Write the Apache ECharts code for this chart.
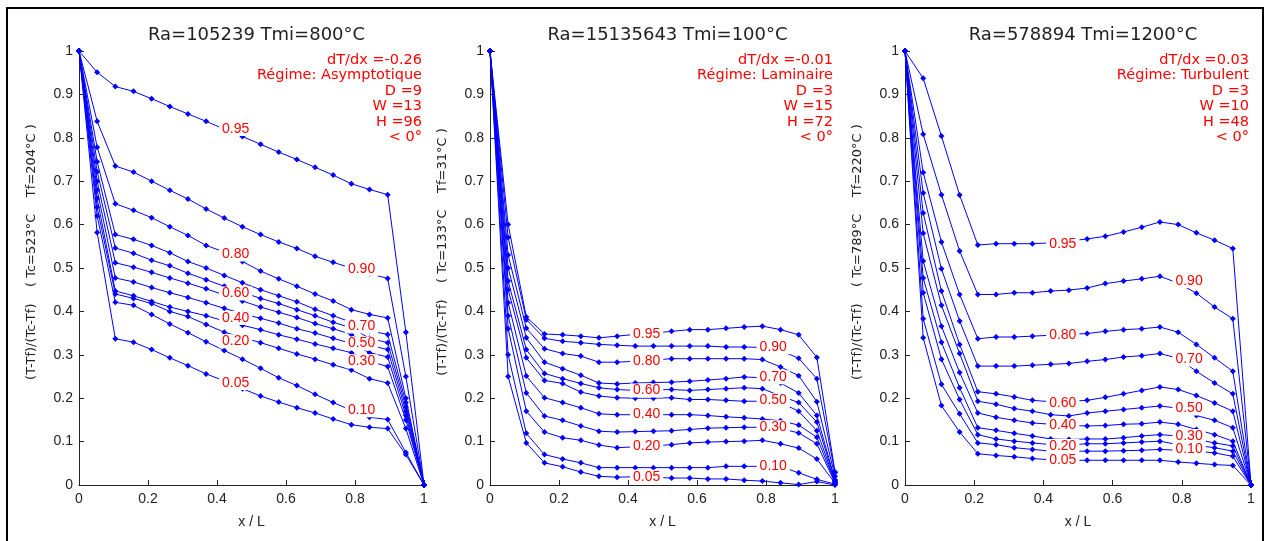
<!DOCTYPE html>
<html>
<head>
<meta charset="utf-8">
<script src="https://cdn.jsdelivr.net/npm/echarts@6/dist/echarts.min.js"></script>
<style>
html,body{margin:0;padding:0;background:#fff;}
#chart{width:1271px;height:541px;}
</style>
</head>
<body>
<div id="chart"></div>
<script>
// ---------------- DATA ----------------
const xPoints = [0, 0.0526, 0.1053, 0.1579, 0.2105, 0.2632, 0.3158, 0.3684, 0.4211, 0.4737,
                 0.5263, 0.5789, 0.6316, 0.6842, 0.7368, 0.7895, 0.8421, 0.8947, 0.9474, 1];
const levels = ['0.95','0.90','0.80','0.70','0.60','0.50','0.40','0.30','0.20','0.10','0.05'];

const titles = ['Ra=105239 Tmi=800°C', 'Ra=15135643 Tmi=100°C', 'Ra=578894 Tmi=1200°C'];
const yNames = ['(T-Tf)/(Tc-Tf)    ( Tc=523°C    Tf=204°C )',
                '(T-Tf)/(Tc-Tf)    ( Tc=133°C    Tf=31°C )',
                '(T-Tf)/(Tc-Tf)    ( Tc=789°C    Tf=220°C )'];
const notes1 = ['dT/dx =-0.26', 'Régime: Asymptotique', 'D =9', 'W =13', 'H =96', '< 0°'];
const notes2 = ['dT/dx =-0.01', 'Régime: Laminaire', 'D =3', 'W =15', 'H =72', '< 0°'];
const notes3 = ['dT/dx =0.03', 'Régime: Turbulent', 'D =3', 'W =10', 'H =48', '< 0°'];
const xTicks = [0, 0.2, 0.4, 0.6, 0.8, 1];
const yTicks = [0, 0.1, 0.2, 0.3, 0.4, 0.5, 0.6, 0.7, 0.8, 0.9, 1];

// Panel 1 curves (one row per level)
const panel1 = [
 [1,0.951,0.918,0.907,0.890,0.872,0.855,0.838,0.820,0.803,0.785,0.767,0.750,0.732,0.714,0.694,0.681,0.669,0.352,0],
 [1,0.838,0.735,0.721,0.700,0.679,0.659,0.636,0.615,0.595,0.577,0.560,0.545,0.527,0.513,0.500,0.487,0.476,0.250,0],
 [1,0.778,0.648,0.633,0.616,0.595,0.575,0.552,0.537,0.515,0.493,0.475,0.458,0.440,0.424,0.404,0.393,0.385,0.200,0],
 [1,0.745,0.577,0.566,0.552,0.535,0.515,0.500,0.483,0.466,0.450,0.436,0.422,0.405,0.390,0.375,0.355,0.347,0.190,0],
 [1,0.722,0.546,0.534,0.518,0.505,0.488,0.473,0.458,0.444,0.430,0.418,0.404,0.390,0.375,0.362,0.338,0.328,0.180,0],
 [1,0.700,0.512,0.502,0.490,0.477,0.465,0.452,0.438,0.424,0.410,0.398,0.386,0.372,0.360,0.347,0.322,0.312,0.170,0],
 [1,0.680,0.477,0.468,0.455,0.443,0.432,0.420,0.407,0.395,0.384,0.373,0.360,0.350,0.338,0.326,0.305,0.295,0.160,0],
 [1,0.660,0.447,0.436,0.423,0.410,0.400,0.390,0.378,0.368,0.358,0.346,0.336,0.325,0.315,0.305,0.285,0.273,0.150,0],
 [1,0.640,0.440,0.430,0.418,0.400,0.388,0.370,0.352,0.340,0.328,0.315,0.302,0.290,0.277,0.265,0.245,0.235,0.130,0],
 [1,0.620,0.421,0.414,0.393,0.371,0.351,0.330,0.310,0.290,0.269,0.247,0.229,0.209,0.190,0.172,0.156,0.151,0.075,0],
 [1,0.582,0.337,0.329,0.312,0.293,0.275,0.256,0.240,0.222,0.205,0.191,0.178,0.166,0.152,0.139,0.133,0.130,0.070,0]
];
// Panel 2 curves
const panel2 = [
 [1,0.600,0.387,0.348,0.346,0.343,0.339,0.343,0.347,0.350,0.354,0.358,0.358,0.361,0.364,0.366,0.358,0.346,0.294,0.030],
 [1,0.570,0.381,0.338,0.331,0.328,0.324,0.322,0.320,0.320,0.320,0.320,0.320,0.318,0.318,0.317,0.310,0.292,0.245,0.028],
 [1,0.530,0.361,0.314,0.303,0.297,0.283,0.283,0.285,0.288,0.291,0.291,0.291,0.291,0.291,0.289,0.272,0.252,0.192,0.020],
 [1,0.500,0.339,0.283,0.268,0.253,0.235,0.233,0.235,0.236,0.237,0.239,0.242,0.245,0.249,0.247,0.235,0.212,0.160,0.012],
 [1,0.470,0.312,0.257,0.245,0.234,0.224,0.220,0.218,0.219,0.220,0.218,0.220,0.222,0.224,0.222,0.205,0.190,0.145,0.010],
 [1,0.450,0.293,0.241,0.234,0.214,0.205,0.201,0.200,0.200,0.201,0.197,0.197,0.195,0.193,0.193,0.190,0.170,0.125,0.008],
 [1,0.420,0.251,0.201,0.190,0.178,0.164,0.162,0.162,0.162,0.162,0.162,0.160,0.157,0.155,0.152,0.148,0.138,0.110,0.006],
 [1,0.390,0.212,0.159,0.149,0.136,0.124,0.122,0.123,0.124,0.125,0.128,0.131,0.132,0.133,0.133,0.130,0.120,0.095,0.005],
 [1,0.360,0.170,0.122,0.109,0.103,0.092,0.086,0.088,0.090,0.093,0.097,0.099,0.100,0.101,0.103,0.095,0.085,0.060,0.004],
 [1,0.300,0.119,0.070,0.060,0.051,0.040,0.040,0.040,0.040,0.040,0.040,0.040,0.043,0.043,0.043,0.043,0.028,0.013,0.002],
 [1,0.250,0.097,0.051,0.042,0.030,0.020,0.018,0.019,0.018,0.016,0.016,0.014,0.014,0.011,0.009,0.005,0.001,0.008,0]
];
// Panel 3 curves
const panel3 = [
 [1,0.937,0.804,0.668,0.553,0.556,0.556,0.556,0.558,0.562,0.567,0.573,0.583,0.594,0.606,0.600,0.581,0.564,0.545,0],
 [1,0.808,0.669,0.539,0.439,0.439,0.443,0.443,0.447,0.449,0.454,0.464,0.470,0.475,0.481,0.465,0.442,0.410,0.383,0],
 [1,0.720,0.560,0.439,0.337,0.341,0.341,0.343,0.345,0.347,0.349,0.354,0.358,0.360,0.364,0.352,0.324,0.293,0.262,0],
 [1,0.673,0.498,0.378,0.274,0.274,0.274,0.276,0.278,0.280,0.285,0.289,0.295,0.298,0.303,0.292,0.262,0.235,0.210,0],
 [1,0.627,0.447,0.324,0.215,0.210,0.203,0.195,0.192,0.193,0.195,0.202,0.210,0.218,0.226,0.220,0.206,0.189,0.170,0],
 [1,0.580,0.414,0.303,0.193,0.186,0.176,0.170,0.162,0.159,0.166,0.170,0.174,0.178,0.182,0.177,0.160,0.149,0.132,0],
 [1,0.516,0.366,0.259,0.166,0.156,0.149,0.143,0.140,0.137,0.136,0.137,0.140,0.141,0.145,0.140,0.128,0.116,0.101,0],
 [1,0.477,0.329,0.224,0.132,0.126,0.119,0.113,0.106,0.105,0.106,0.106,0.109,0.113,0.116,0.113,0.105,0.097,0.090,0],
 [1,0.443,0.290,0.197,0.116,0.106,0.101,0.097,0.093,0.092,0.095,0.095,0.097,0.099,0.101,0.093,0.091,0.086,0.078,0],
 [1,0.383,0.232,0.164,0.097,0.093,0.086,0.082,0.078,0.078,0.078,0.078,0.079,0.080,0.082,0.080,0.078,0.074,0.066,0],
 [1,0.339,0.183,0.122,0.072,0.068,0.065,0.061,0.058,0.057,0.057,0.057,0.057,0.057,0.057,0.053,0.050,0.047,0.045,0]
];

// Contour-style level labels: [x, y, text]
const labels1 = [[0.454,0.820,'0.95'],[0.454,0.531,'0.80'],[0.454,0.441,'0.60'],[0.454,0.385,'0.40'],[0.454,0.331,'0.20'],[0.454,0.235,'0.05'],
                 [0.819,0.497,'0.90'],[0.819,0.365,'0.70'],[0.819,0.326,'0.50'],[0.819,0.285,'0.30'],[0.819,0.172,'0.10']];
const labels2 = [[0.454,0.347,'0.95'],[0.454,0.285,'0.80'],[0.454,0.218,'0.60'],[0.454,0.164,'0.40'],[0.454,0.090,'0.20'],[0.454,0.019,'0.05'],
                 [0.821,0.318,'0.90'],[0.821,0.248,'0.70'],[0.821,0.195,'0.50'],[0.821,0.133,'0.30'],[0.821,0.043,'0.10']];
const labels3 = [[0.456,0.554,'0.95'],[0.456,0.345,'0.80'],[0.456,0.189,'0.60'],[0.456,0.137,'0.40'],[0.456,0.090,'0.20'],[0.456,0.057,'0.05'],
                 [0.821,0.470,'0.90'],[0.821,0.289,'0.70'],[0.821,0.176,'0.50'],[0.821,0.113,'0.30'],[0.821,0.082,'0.10']];

// ---------------- LAYOUT ----------------
const FONT = '"DejaVu Sans", Verdana, sans-serif';
const FONT2 = '"Liberation Sans", Arial, sans-serif';
const panels = [
  {left: 79,  width: 345, data: panel1, labels: labels1, notes: notes1},
  {left: 490, width: 345, data: panel2, labels: labels2, notes: notes2},
  {left: 905, width: 346, data: panel3, labels: labels3, notes: notes3}
];
const TOP = 51, HEIGHT = 434;

const grids = [], xAxes = [], yAxes = [], series = [], titleArr = [], graphics = [];
panels.forEach((p, pi) => {
  grids.push({left: p.left, top: TOP, width: p.width, height: HEIGHT, containLabel: false});
  xAxes.push({
    type: 'value', gridIndex: pi, min: 0, max: 1, interval: 0.2,
    name: 'x / L', nameLocation: 'middle', nameGap: 30,
    nameTextStyle: {color: '#222', fontSize: 14, fontFamily: FONT2},
    axisLine: {show: true, lineStyle: {color: '#222', width: 1}},
    axisTick: {show: true, inside: true, length: 5, lineStyle: {color: '#222'}},
    axisLabel: {color: '#222', fontSize: 14, fontFamily: FONT2, margin: 7,
                formatter: v => xTicks.indexOf(+v.toFixed(1)) >= 0 ? String(+v.toFixed(1)) : ''},
    splitLine: {show: false}
  });
  yAxes.push({
    type: 'value', gridIndex: pi, min: 0, max: 1, interval: 0.1,
    axisLine: {show: true, lineStyle: {color: '#222', width: 1}},
    axisTick: {show: true, inside: true, length: 5, lineStyle: {color: '#222'}},
    axisLabel: {color: '#222', fontSize: 14, fontFamily: FONT2, margin: 6,
                formatter: v => yTicks.indexOf(+v.toFixed(1)) >= 0 ? String(+v.toFixed(1)) : ''},
    splitLine: {show: false}
  });
  titleArr.push({
    text: titles[pi], left: p.left + p.width / 2, top: 21, textAlign: 'center',
    textStyle: {color: '#222', fontSize: 18, fontWeight: 'normal', fontFamily: FONT}
  });
  p.data.forEach((vals, k) => {
    series.push({
      type: 'line', name: levels[k], xAxisIndex: pi, yAxisIndex: pi,
      data: xPoints.map((x, i) => [x, vals[i]]),
      symbol: 'diamond', symbolSize: 6, showSymbol: true,
      lineStyle: {color: '#0000ff', width: 1}, itemStyle: {color: '#0000ff'},
      animation: false, z: 2, silent: true
    });
  });
  series.push({
    type: 'scatter', xAxisIndex: pi, yAxisIndex: pi, z: 10, zlevel: 1,
    symbolSize: 1, itemStyle: {color: '#ffffff', opacity: 1},
    data: p.labels.map(l => ({value: [l[0], l[1]], name: l[2]})),
    label: {show: true, position: 'inside', formatter: '{b}', color: '#ff0000', opacity: 1,
            fontSize: 14, fontFamily: FONT2, backgroundColor: '#ffffff', padding: [0, 3],
            textBorderWidth: 0},
    animation: false, silent: true
  });
  graphics.push({
    type: 'text', right: 1271 - (p.left + p.width - 2), top: TOP + 1,
    style: {text: p.notes.join('\n'), textAlign: 'right', fill: '#ff0000',
            font: '14.5px ' + FONT, lineHeight: 15.5}
  });
  graphics.push({
    type: 'text', rotation: Math.PI / 2, x: p.left - 47, y: 252,
    style: {text: yNames[pi], textAlign: 'center', textVerticalAlign: 'middle',
            fill: '#222', font: '13px ' + FONT}
  });
});
graphics.push({
  type: 'rect', shape: {x: 7, y: 8, width: 1256, height: 545},
  style: {fill: 'none', stroke: '#000', lineWidth: 2}, z: 100
});

const chart = echarts.init(document.getElementById('chart'), null, {renderer: 'canvas'});
chart.setOption({
  backgroundColor: '#ffffff',
  animation: false,
  title: titleArr,
  grid: grids,
  xAxis: xAxes,
  yAxis: yAxes,
  series: series,
  graphic: graphics
});
</script>
</body>
</html>
